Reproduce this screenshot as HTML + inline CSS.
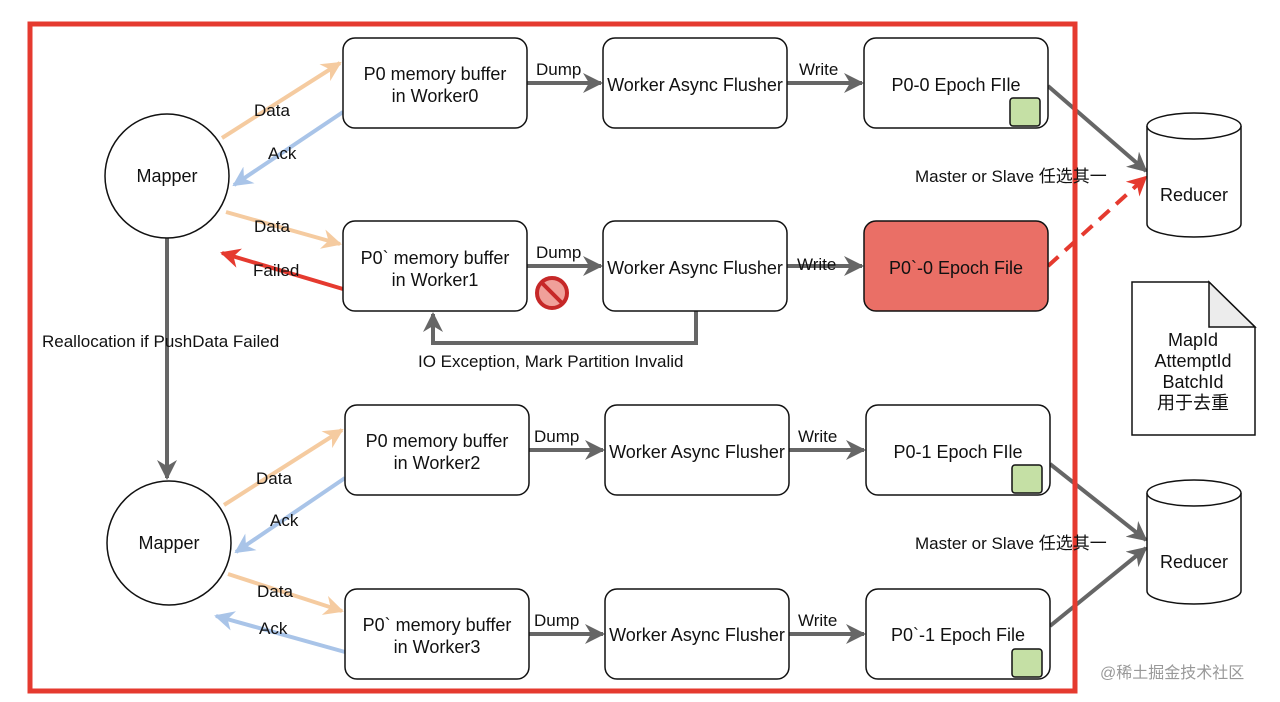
<!DOCTYPE html>
<html><head><meta charset="utf-8"><style>
html,body{margin:0;padding:0;background:#fff;}
svg{display:block;font-family:"Liberation Sans","Noto Sans CJK SC",sans-serif;}
</style></head><body>
<svg width="1280" height="702" viewBox="0 0 1280 702" xmlns="http://www.w3.org/2000/svg">
<defs>
<marker id="ag" viewBox="0 0 10 10" refX="9" refY="5" markerWidth="5" markerHeight="5" orient="auto" markerUnits="strokeWidth"><path d="M0,0 L10,5 L0,10 L3,5 z" fill="#666"/></marker>
<marker id="ao" viewBox="0 0 10 10" refX="9" refY="5" markerWidth="5" markerHeight="5" orient="auto" markerUnits="strokeWidth"><path d="M0,0 L10,5 L0,10 L3,5 z" fill="#f5cba0"/></marker>
<marker id="ab" viewBox="0 0 10 10" refX="9" refY="5" markerWidth="5" markerHeight="5" orient="auto" markerUnits="strokeWidth"><path d="M0,0 L10,5 L0,10 L3,5 z" fill="#a9c4e8"/></marker>
<marker id="ar" viewBox="0 0 10 10" refX="9" refY="5" markerWidth="5" markerHeight="5" orient="auto" markerUnits="strokeWidth"><path d="M0,0 L10,5 L0,10 L3,5 z" fill="#e53a2f"/></marker>
</defs>
<g fill="none" stroke-width="4">
<line x1="222" y1="138" x2="340" y2="63" stroke="#f5cba0" marker-end="url(#ao)"/>
<line x1="343" y1="112" x2="234" y2="185" stroke="#a9c4e8" marker-end="url(#ab)"/>
<line x1="226" y1="212" x2="340" y2="244" stroke="#f5cba0" marker-end="url(#ao)"/>
<line x1="343" y1="289" x2="222" y2="253" stroke="#e53a2f" marker-end="url(#ar)"/>
<line x1="224" y1="505" x2="342" y2="430" stroke="#f5cba0" marker-end="url(#ao)"/>
<line x1="345" y1="478" x2="236" y2="552" stroke="#a9c4e8" marker-end="url(#ab)"/>
<line x1="228" y1="574" x2="342" y2="611" stroke="#f5cba0" marker-end="url(#ao)"/>
<line x1="345" y1="652" x2="216" y2="616" stroke="#a9c4e8" marker-end="url(#ab)"/>
<g stroke="#666">
<line x1="527" y1="83" x2="601" y2="83" marker-end="url(#ag)"/>
<line x1="787" y1="83" x2="862" y2="83" marker-end="url(#ag)"/>
<line x1="527" y1="266" x2="601" y2="266" marker-end="url(#ag)"/>
<line x1="787" y1="266" x2="862" y2="266" marker-end="url(#ag)"/>
<line x1="528" y1="450" x2="603" y2="450" marker-end="url(#ag)"/>
<line x1="789" y1="450" x2="864" y2="450" marker-end="url(#ag)"/>
<line x1="528" y1="634" x2="603" y2="634" marker-end="url(#ag)"/>
<line x1="789" y1="634" x2="864" y2="634" marker-end="url(#ag)"/>
<line x1="1048" y1="86" x2="1146" y2="171" marker-end="url(#ag)"/>
<line x1="1050" y1="464" x2="1146" y2="540" marker-end="url(#ag)"/>
<line x1="1050" y1="626" x2="1146" y2="548" marker-end="url(#ag)"/>
<line x1="167" y1="238" x2="167" y2="478" marker-end="url(#ag)"/>
<polyline points="696,311 696,343 433,343 433,314" marker-end="url(#ag)"/>
</g>
<line x1="1048" y1="266" x2="1146" y2="177" stroke="#e53a2f" stroke-dasharray="14,9" marker-end="url(#ar)"/>
</g>
<g stroke="#111" stroke-width="1.5" fill="#fff">
<rect x="343" y="38" width="184" height="90" rx="12"/>
<rect x="603" y="38" width="184" height="90" rx="12"/>
<rect x="864" y="38" width="184" height="90" rx="12"/>
<rect x="343" y="221" width="184" height="90" rx="12"/>
<rect x="603" y="221" width="184" height="90" rx="12"/>
<rect x="864" y="221" width="184" height="90" rx="12" fill="#ea6f66"/>
<rect x="345" y="405" width="184" height="90" rx="12"/>
<rect x="605" y="405" width="184" height="90" rx="12"/>
<rect x="866" y="405" width="184" height="90" rx="12"/>
<rect x="345" y="589" width="184" height="90" rx="12"/>
<rect x="605" y="589" width="184" height="90" rx="12"/>
<rect x="866" y="589" width="184" height="90" rx="12"/>
<rect x="1010" y="98" width="30" height="28" rx="3" fill="#c5e0a5"/>
<rect x="1012" y="465" width="30" height="28" rx="3" fill="#c5e0a5"/>
<rect x="1012" y="649" width="30" height="28" rx="3" fill="#c5e0a5"/>
<ellipse cx="167" cy="176" rx="62" ry="62"/>
<ellipse cx="169" cy="543" rx="62" ry="62"/>
<path d="M1147,126 L1147,224 A47,13 0 0 0 1241,224 L1241,126"/>
<ellipse cx="1194" cy="126" rx="47" ry="13"/>
<path d="M1147,493 L1147,591 A47,13 0 0 0 1241,591 L1241,493"/>
<ellipse cx="1194" cy="493" rx="47" ry="13"/>
<path d="M1132,282 L1209,282 L1255,327 L1255,435 L1132,435 Z"/>
<path d="M1209,282 L1209,327 L1255,327 Z" fill="#ececec"/>
</g>
<circle cx="552" cy="293" r="15" fill="#f0a09a" stroke="#c62828" stroke-width="4"/>
<line x1="542" y1="283" x2="562" y2="303" stroke="#c62828" stroke-width="4"/>
<rect x="30" y="24" width="1045" height="667" fill="none" stroke="#e53a2f" stroke-width="5"/>
<g font-size="18" fill="#111" text-anchor="middle">
<text x="435" y="80">P0 memory buffer</text><text x="435" y="102">in Worker0</text>
<text x="695" y="91">Worker Async Flusher</text>
<text x="956" y="91">P0-0 Epoch FIle</text>
<text x="435" y="264">P0` memory buffer</text><text x="435" y="286">in Worker1</text>
<text x="695" y="274">Worker Async Flusher</text>
<text x="956" y="274">P0`-0 Epoch File</text>
<text x="437" y="447">P0 memory buffer</text><text x="437" y="469">in Worker2</text>
<text x="697" y="458">Worker Async Flusher</text>
<text x="958" y="458">P0-1 Epoch FIle</text>
<text x="437" y="631">P0` memory buffer</text><text x="437" y="653">in Worker3</text>
<text x="697" y="641">Worker Async Flusher</text>
<text x="958" y="641">P0`-1 Epoch File</text>
<text x="167" y="182">Mapper</text>
<text x="169" y="549">Mapper</text>
<text x="1194" y="201">Reducer</text>
<text x="1194" y="568">Reducer</text>
<text x="1193" y="346">MapId</text><text x="1193" y="367">AttemptId</text><text x="1193" y="388">BatchId</text><text x="1193" y="409">用于去重</text>
</g>
<g font-size="17" fill="#111">
<text x="536" y="75">Dump</text><text x="799" y="75">Write</text>
<text x="536" y="258">Dump</text><text x="797" y="270">Write</text>
<text x="534" y="442">Dump</text><text x="798" y="442">Write</text>
<text x="534" y="626">Dump</text><text x="798" y="626">Write</text>
<text x="254" y="116">Data</text><text x="268" y="159">Ack</text>
<text x="254" y="232">Data</text><text x="253" y="276">Failed</text>
<text x="256" y="484">Data</text><text x="270" y="526">Ack</text>
<text x="257" y="597">Data</text><text x="259" y="634">Ack</text>
<text x="42" y="347">Reallocation if PushData Failed</text>
<text x="418" y="367">IO Exception, Mark Partition Invalid</text>
<text x="915" y="182">Master or Slave 任选其一</text>
<text x="915" y="549">Master or Slave 任选其一</text>
</g>
<text x="1100" y="678" font-size="16" fill="#999">@稀土掘金技术社区</text>
</svg>
</body></html>
